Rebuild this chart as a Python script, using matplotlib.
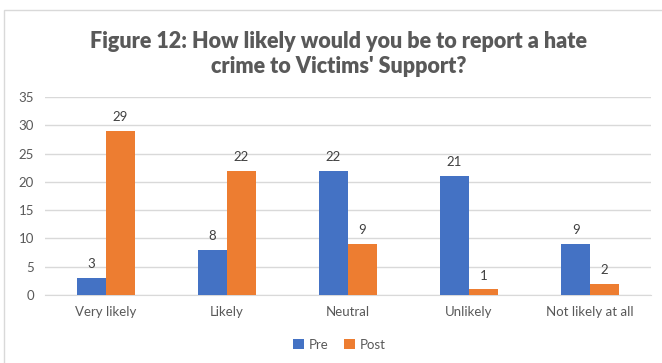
import numpy as np
import matplotlib.pyplot as plt
from matplotlib.patches import Rectangle

categories = ['Very likely', 'Likely', 'Neutral', 'Unlikely', 'Not likely at all']
pre = [3, 8, 22, 21, 9]
post = [29, 22, 9, 1, 2]

blue = '#4472C4'
orange = '#ED7D31'
grey = '#595959'

plt.rcParams['font.family'] = ['Lato', 'DejaVu Sans']

fig = plt.figure(figsize=(6.62, 3.63), dpi=100)
ax = fig.add_axes([0.068, 0.187, 0.915, 0.546])

x = np.arange(len(categories))
w = 0.24
b1 = ax.bar(x - w / 2, pre, w, color=blue, label='Pre', zorder=3)
b2 = ax.bar(x + w / 2, post, w, color=orange, label='Post', zorder=3)

for bars, vals in ((b1, pre), (b2, post)):
    for rect, v in zip(bars, vals):
        ax.text(rect.get_x() + rect.get_width() / 2, v + 1.4, str(v),
                ha='center', va='bottom', fontsize=9.5, color='#404040')

ax.set_xlim(-0.5, len(categories) - 0.5)
ax.set_ylim(0, 35)
ax.set_yticks(range(0, 36, 5))
ax.set_xticks(x)
ax.set_xticklabels(categories)
ax.yaxis.grid(True, color='#D9D9D9', linewidth=1, zorder=0)
ax.tick_params(axis='both', length=0, labelsize=9.5, colors=grey, pad=8)
for side in ('top', 'right', 'left'):
    ax.spines[side].set_visible(False)
ax.spines['bottom'].set_color('#D9D9D9')

fig.text(0.512, 0.852, "Figure 12: How likely would you be to report a hate\ncrime to Victims' Support?",
         ha='center', va='center', fontsize=15.5, fontweight='heavy', color=grey,
         linespacing=1.25)

leg = fig.legend(loc='center', bbox_to_anchor=(0.513, 0.05), ncol=2, frameon=False,
                 fontsize=9.5, handlelength=0.8, handleheight=0.8, columnspacing=1.2,
                 handletextpad=0.4)
for t in leg.get_texts():
    t.set_color(grey)

# chart border
fig.patches.append(Rectangle((4 / 662, -0.1), 1.2, 1.1 - 10 / 363, transform=fig.transFigure,
                             fill=False, edgecolor='#D9D9D9', linewidth=1))

fig.savefig('out.png', dpi=100)
